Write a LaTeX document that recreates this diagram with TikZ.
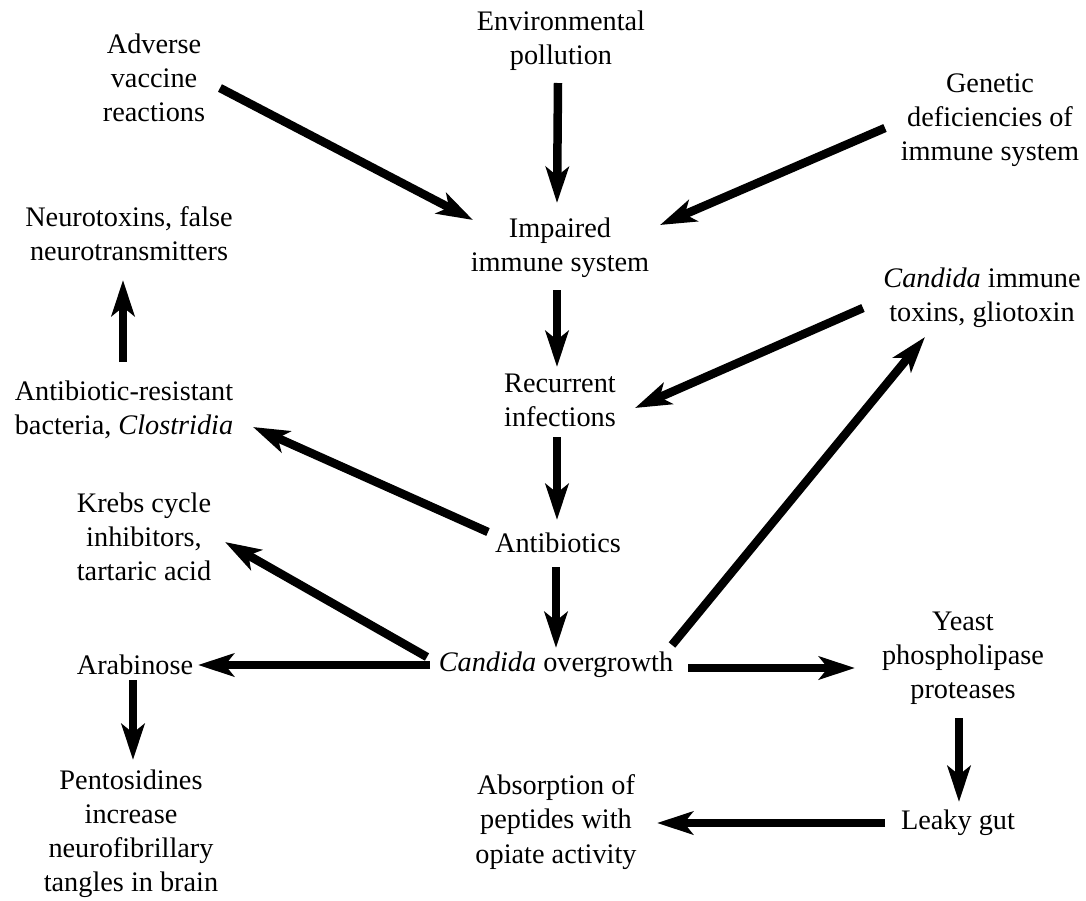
\documentclass[tikz,border=0pt]{standalone}
\usepackage{fontspec}
\setmainfont{Liberation Serif}
\usetikzlibrary{arrows.meta}
\begin{document}
\begin{tikzpicture}[x=0.02cm,y=-0.02cm,
  lbl/.style={align=center,inner sep=1pt,font=\fontsize{16.1}{19.4}\selectfont},
  arr/.style={line width=0.17cm,line cap=butt,-{Stealth[length=0.72cm,width=0.46cm,inset=0.18cm]}}]
\path[use as bounding box,fill=white] (0,0) rectangle (1086,900);
\node[lbl] (adv) at (154,78) {Adverse\\vaccine\\reactions};
\node[lbl] (env) at (561,41) {Environmental\\pollution};
\node[lbl] (gen) at (990,120) {Genetic\\deficiencies of\\immune system};
\node[lbl] (neu) at (129,234) {Neurotoxins, false\\neurotransmitters};
\node[lbl] (imp) at (560,248) {Impaired\\immune system};
\node[lbl] (ctox) at (982,298) {\textit{Candida} immune\\toxins, gliotoxin};
\node[lbl] (abr) at (124,410) {Antibiotic-resistant\\bacteria, \textit{Clostridia}};
\node[lbl] (rec) at (560,400) {Recurrent\\infections};
\node[lbl] (kre) at (144,537) {Krebs cycle\\inhibitors,\\tartaric acid};
\node[lbl] (ant) at (558,543) {Antibiotics};
\node[lbl] (ara) at (135,665) {Arabinose};
\node[lbl] (cov) at (556,665) {\textit{Candida} overgrowth};
\node[lbl] (yea) at (963,658) {Yeast\\phospholipase\\proteases};
\node[lbl] (pen) at (131,834) {Pentosidines\\increase\\neurofibrillary\\tangles in brain};
\node[lbl] (abs) at (556,822) {Absorption of\\peptides with\\opiate activity};
\node[lbl] (lea) at (958,823) {Leaky gut};
\draw[arr] ([shift={(66,10)}]adv.center) -- ([shift={(-87,-28)}]imp.center);
\draw[arr] ([shift={(-3,42)}]env.center) -- ([shift={(-3,-45)}]imp.center);
\draw[arr] ([shift={(-105,8)}]gen.center) -- ([shift={(100,-23)}]imp.center);
\draw[arr] ([shift={(-3,42)}]imp.center) -- ([shift={(-3,-33)}]rec.center);
\draw[arr] ([shift={(-119,10)}]ctox.center) -- ([shift={(75,8)}]rec.center);
\draw[arr] ([shift={(-3,37)}]rec.center) -- ([shift={(-1,-23)}]ant.center);
\draw[arr] ([shift={(-70,-11)}]ant.center) -- ([shift={(129,17)}]abr.center);
\draw[arr] ([shift={(-1,-48)}]abr.center) -- ([shift={(-6,46)}]neu.center);
\draw[arr] ([shift={(-2,24)}]ant.center) -- ([shift={(0,-17)}]cov.center);
\draw[arr] ([shift={(-129,-8)}]cov.center) -- ([shift={(81,5)}]kre.center);
\draw[arr] ([shift={(-126,0)}]cov.center) -- ([shift={(63,0)}]ara.center);
\draw[arr] ([shift={(116,-20)}]cov.center) -- ([shift={(-57,39)}]ctox.center);
\draw[arr] ([shift={(132,3)}]cov.center) -- ([shift={(-108,10)}]yea.center);
\draw[arr] ([shift={(-2,15)}]ara.center) -- ([shift={(2,-74)}]pen.center);
\draw[arr] ([shift={(-4,60)}]yea.center) -- ([shift={(1,-21)}]lea.center);
\draw[arr] ([shift={(-73,0)}]lea.center) -- ([shift={(101,1)}]abs.center);
\end{tikzpicture}
\end{document}
